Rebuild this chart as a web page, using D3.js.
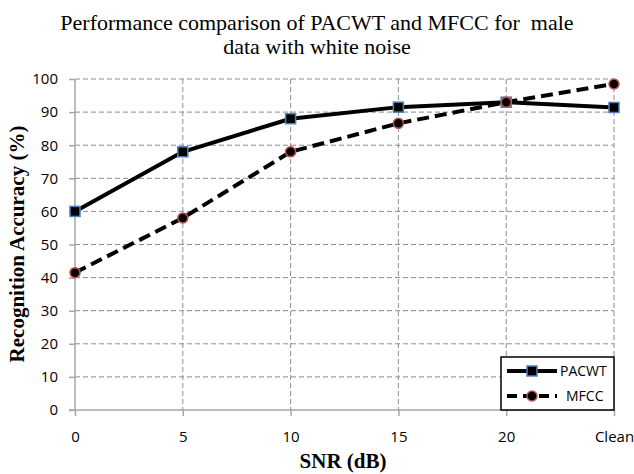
<!DOCTYPE html>
<html><head><meta charset="utf-8">
<script src="https://cdn.jsdelivr.net/npm/d3@7"></script>
<style>body{margin:0;background:#fff}svg{display:block}</style>
</head><body>
<svg id="c" width="634" height="474"></svg>
<script>
const categories = ["0","5","10","15","20","Clean"];
const pacwt = [60, 78, 88, 91.5, 93, 91.4];
const mfcc = [41.5, 58, 78, 86.6, 93, 98.5];
const yTicks = [0,10,20,30,40,50,60,70,80,90,100];
const seriesNames = ["PACWT","MFCC"];

const svg = d3.select("#c");
const pL = 75, pR = 614, pT = 79, pB = 410;
const x = d3.scalePoint().domain(categories).range([pL, pR]);
const y = d3.scaleLinear().domain([0,100]).range([pB, pT]);

// gridlines
svg.append("g").selectAll("line").data(yTicks.filter(d=>d>0)).join("line")
  .attr("x1", pL).attr("x2", pR).attr("y1", d=>y(d)).attr("y2", d=>y(d))
  .attr("stroke", "#8c8c8c").attr("stroke-width", 1).attr("stroke-dasharray", "5,3");
svg.append("g").selectAll("line").data(categories.slice(1)).join("line")
  .attr("x1", d=>x(d)).attr("x2", d=>x(d)).attr("y1", pT).attr("y2", pB)
  .attr("stroke", "#8c8c8c").attr("stroke-width", 1).attr("stroke-dasharray", "5,3");

// axes
const yAxis = d3.axisLeft(y).tickValues(yTicks).tickSize(6).tickPadding(11);
const gy = svg.append("g").attr("transform", `translate(${pL},0)`).call(yAxis);
const xAxis = d3.axisBottom(x).tickSize(6).tickPadding(15);
const gx = svg.append("g").attr("transform", `translate(0,${pB})`).call(xAxis);
[gy, gx].forEach(g => {
  g.select(".domain").attr("stroke", "#a6a6a6").attr("stroke-width", 1.5);
  g.selectAll(".tick line").attr("stroke", "#a6a6a6").attr("stroke-width", 1.5);
  g.selectAll(".tick text").attr("fill", "#000").style("font-family", "'Open Sans', sans-serif").style("font-size", "15px");
});
gx.select(".domain").attr("d", `M${pL-6},0H${pR}`);
gy.select(".domain").attr("d", `M0,${pB}V${pT}`);

// lines
const line = d3.line().x((d,i)=>x(categories[i])).y(d=>y(d));
svg.append("path").datum(pacwt).attr("d", line).attr("fill","none")
  .attr("stroke","#000").attr("stroke-width",4).attr("stroke-linejoin","round");
svg.append("path").datum(mfcc).attr("d", line).attr("fill","none")
  .attr("stroke","#000").attr("stroke-width",4).attr("stroke-dasharray","12,6");

// markers
svg.append("g").selectAll("rect").data(pacwt).join("rect")
  .attr("x",(d,i)=>x(categories[i])-5).attr("y",d=>y(d)-5).attr("width",10).attr("height",10)
  .attr("fill","#000").attr("stroke","#4f81bd").attr("stroke-width",1.5);
svg.append("g").selectAll("circle").data(mfcc).join("circle")
  .attr("cx",(d,i)=>x(categories[i])).attr("cy",d=>y(d)).attr("r",5)
  .attr("fill","#000").attr("stroke","#c0504d").attr("stroke-width",1.5);

// legend
const lg = svg.append("g");
lg.append("rect").attr("x",501).attr("y",357).attr("width",113).attr("height",53)
  .attr("fill","#fff").attr("stroke","#000").attr("stroke-width",1.5);
const ly = [371, 396];
lg.append("line").attr("x1",507).attr("x2",557).attr("y1",ly[0]).attr("y2",ly[0]).attr("stroke","#000").attr("stroke-width",4);
lg.append("rect").attr("x",527).attr("y",ly[0]-5).attr("width",10).attr("height",10).attr("fill","#000").attr("stroke","#4f81bd").attr("stroke-width",1.5);
lg.append("line").attr("x1",507).attr("x2",557).attr("y1",ly[1]).attr("y2",ly[1]).attr("stroke","#000").attr("stroke-width",4).attr("stroke-dasharray","10,6");
lg.append("circle").attr("cx",532).attr("cy",ly[1]).attr("r",5).attr("fill","#000").attr("stroke","#c0504d").attr("stroke-width",1.5);
lg.selectAll("text.l").data(seriesNames).join("text").attr("class","l")
  .attr("x",(d,i)=> i===0 ? 560 : 566).attr("y",(d,i)=>ly[i]+5)
  .style("font-family","'Open Sans', sans-serif").style("font-size","14px").text(d=>d);

// titles
const title = svg.append("text").attr("text-anchor","middle")
  .style("font-family","'Liberation Serif', serif").style("font-size","22px").style("white-space","pre");
title.append("tspan").attr("x",317).attr("y",30).text("Performance comparison of PACWT and MFCC for  male");
title.append("tspan").attr("x",317).attr("y",54).text("data with white noise");

svg.append("text").attr("x",343).attr("y",468).attr("text-anchor","middle")
  .style("font-family","'Liberation Serif', serif").style("font-size","21px").style("font-weight","bold").text("SNR (dB)");
svg.append("text").attr("transform","translate(24,244) rotate(-90)").attr("text-anchor","middle")
  .style("font-family","'Liberation Serif', serif").style("font-size","21px").style("font-weight","bold").text("Recognition Accuracy (%)");
</script>
</body></html>
